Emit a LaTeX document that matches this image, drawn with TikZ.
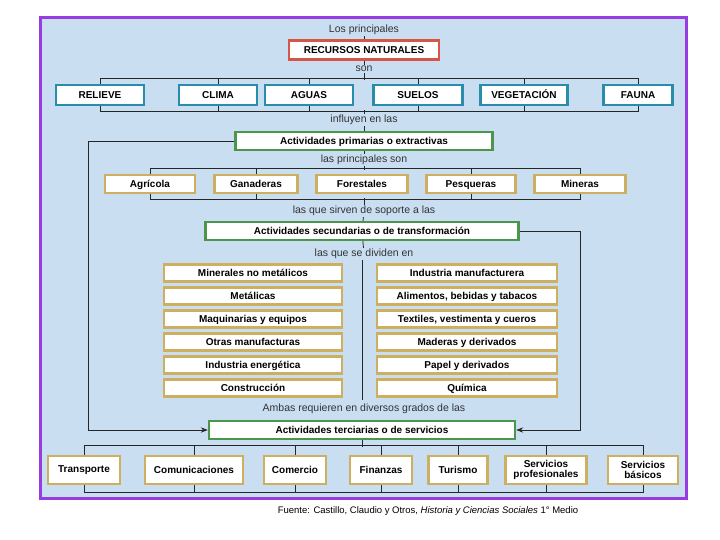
\documentclass[tikz,border=0pt]{standalone}
\usepackage{fontspec}
\setmainfont{Liberation Sans}
\usetikzlibrary{arrows.meta}
\definecolor{marco}{RGB}{150,60,225}
\definecolor{fondo}{RGB}{202,222,242}
\definecolor{rojo}{RGB}{215,85,70}
\definecolor{azul}{RGB}{40,140,170}
\definecolor{verde}{RGB}{75,150,75}
\definecolor{oro}{RGB}{205,175,95}
\tikzset{
  caja/.style={draw=#1, line width=2.4pt, fill=white, inner sep=1pt, align=center,
    text height=7.5pt, text depth=0.3pt,
    font=\fontsize{10}{10.5}\selectfont\bfseries},
  linea/.style={line width=.8pt, black!85},
  txt/.style={font=\fontsize{10.5}{11}\selectfont, text=black!80, inner sep=1pt, fill=fondo}
}
\begin{document}
\begin{tikzpicture}[x=1pt,y=-1pt]
\useasboundingbox (0,0) rectangle (720,540);
\fill[white] (0,0) rectangle (720,540);
\draw[marco, line width=3pt, fill=fondo] (40,18) rectangle (686,498);

% recursos naturales
\node[txt] (t1) at (364,30) {Los principales};
\node[caja=rojo, minimum width=150pt, minimum height=19pt] (rec) at (364,50) {RECURSOS NATURALES};
\node[txt] (t2) at (364,69) {son};
\foreach \nom/\x/\w/\tx in {rel/100/88/RELIEVE, cli/218/78/CLIMA, agu/309/88/AGUAS,
    sue/418/89/SUELOS, veg/524/87/VEGETACIÓN, fau/638/69/FAUNA}
  \node[caja=azul, minimum width=\w pt, minimum height=20pt] (\nom) at (\x,95) {\tx};
\draw[linea] (rec) -- (t2);
\draw[linea] (t1) -- (rec);
\draw[linea] (rel.north) -- ++(0,-5) -| (fau.north);
\draw[linea] (rel.south) -- ++(0,5) -| (fau.south);
\foreach \nom in {cli,agu,sue,veg} {
  \draw[linea] (\nom.north) -- ++(0,-5);
  \draw[linea] (\nom.south) -- ++(0,5);
}
\draw[linea] (t2) -- (364,80);

% primarias
\node[txt] (t3) at (364,120) {influyen en las};
\node[caja=verde, minimum width=257pt, minimum height=18pt] (pri) at (364,141) {Actividades primarias o extractivas};
\draw[linea] (364,110) -- (t3);
\draw[linea] (t3) -- (pri);
\node[txt] (t4) at (364,160) {las principales son};
\draw[linea] (pri) -- (t4);
\foreach \nom/\x/\w/\tx in {agr/150/90/Agrícola, gan/256/83/Ganaderas, for/362/91/Forestales,
    pes/471/89/Pesqueras, min/580/91/Mineras}
  \node[caja=oro, minimum width=\w pt, minimum height=18pt] (\nom) at (\x,184) {\tx};
\draw[linea] (agr.north) -- ++(0,-5) -| (min.north);
\draw[linea] (agr.south) -- ++(0,5) -| (min.south);
\foreach \nom in {gan,pes} {
  \draw[linea] (\nom.north) -- ++(0,-5);
  \draw[linea] (\nom.south) -- ++(0,5);
}
\draw[linea] (t4) -- (364,170);

% secundarias
\node[txt] (t5) at (364,211) {las que sirven de soporte a las};
\node[caja=verde, minimum width=313pt, minimum height=18pt] (sec) at (362,231) {Actividades secundarias o de transformación};
\draw[linea] (364,198) -- (t5);
\draw[linea] (t5) -- (sec);
\node[txt] (t6) at (364,254) {las que se dividen en};
\draw[linea] (sec) -- (t6);
\foreach \tx [count=\i] in {Minerales no metálicos, Metálicas, Maquinarias y equipos,
    Otras manufacturas, Industria energética, Construcción}
  \node[caja=oro, minimum width=178pt, minimum height=17pt] (izq\i) at (253,250+23*\i) {\tx};
\foreach \tx [count=\i] in {Industria manufacturera, {Alimentos, bebidas y tabacos},
    {Textiles, vestimenta y cueros}, Maderas y derivados, Papel y derivados, Química}
  \node[caja=oro, minimum width=180pt, minimum height=17pt] (der\i) at (467,250+23*\i) {\tx};
\coordinate (eje) at (362,400);
\draw[linea] (t6.south -| eje) -- (eje);

% terciarias
\node[txt] (t7) at (364,409) {Ambas requieren en diversos grados de las};
\node[caja=verde, minimum width=306pt, minimum height=18pt] (ter) at (362,430) {Actividades terciarias o de servicios};
\draw[linea, -{Stealth[length=7pt]}] (pri.west) -| (88,430) -- (ter.west);
\draw[linea, -{Stealth[length=7pt]}] (sec.east) -| (580,430) -- (ter.east);
\foreach \nom/\x/\w/\tx in {tra/84/72/Transporte, com/194/98/Comunicaciones, cme/295/62/Comercio,
    fin/381/62/Finanzas, tur/458/59/Turismo, spr/546/81/Servicios\\profesionales,
    sba/643/70/Servicios\\básicos}
  \node[caja=oro, minimum width=\w pt, minimum height=28pt, text height=, text depth=] (\nom) at (\x,470) {\tx};
\draw[linea] (tra.north) -- ++(0,-9) -| (sba.north);
\draw[linea] (tra.south) -- ++(0,7) -| (sba.south);
\foreach \nom in {com,cme,fin,tur,spr} {
  \draw[linea] (\nom.north) -- ++(0,-9);
  \draw[linea] (\nom.south) -- ++(0,7);
}
\draw[linea] (ter) -- (362,447);

\node[font=\fontsize{9.5}{10}\selectfont] (fuente) at (428,511)
  {Fuente: Castillo, Claudio y Otros, \textit{Historia y Ciencias Sociales} 1° Medio};
\end{tikzpicture}
\end{document}
